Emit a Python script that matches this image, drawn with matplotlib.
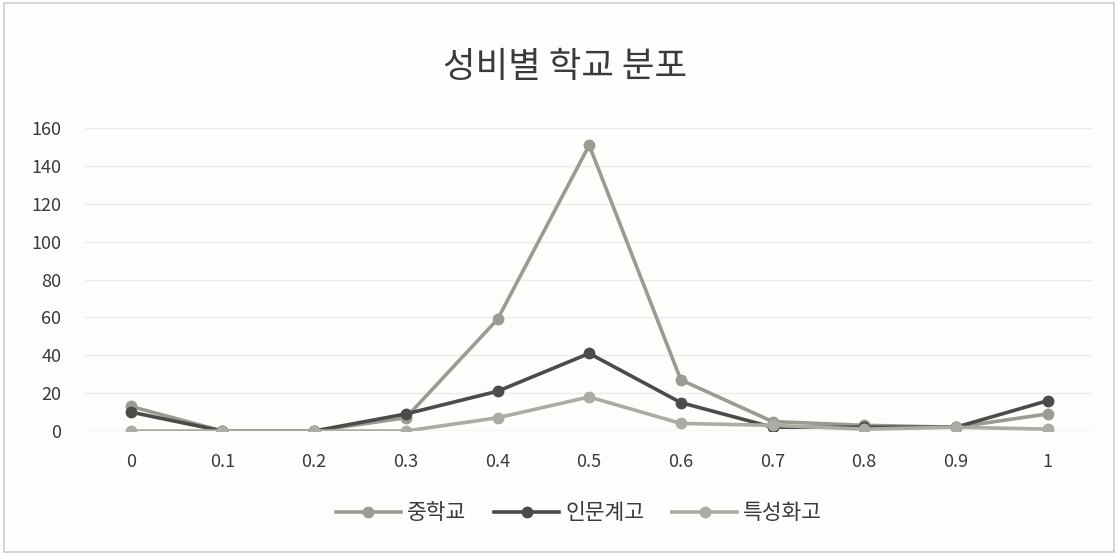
import matplotlib
matplotlib.use("Agg")
import matplotlib.pyplot as plt
from matplotlib.patches import Rectangle

plt.rcParams['font.family'] = ['Noto Sans CJK KR', 'DejaVu Sans']

categories = ["0", "0.1", "0.2", "0.3", "0.4", "0.5", "0.6", "0.7", "0.8", "0.9", "1"]
middle_school = [13, 0, 0, 7, 59, 151, 27, 5, 3, 2, 9]
general_high = [10, 0, 0, 9, 21, 41, 15, 2, 2, 2, 16]
vocational_high = [0, 0, 0, 0, 7, 18, 4, 3, 1, 2, 1]
series_names = ["중학교", "인문계고", "특성화고"]
y_ticks = [0, 20, 40, 60, 80, 100, 120, 140, 160]

colors = ["#9b9b92", "#4b4b49", "#acaca4"]

fig = plt.figure(figsize=(11.18, 5.55), dpi=100)
fig.patch.set_facecolor("#fdfdfb")
fig.add_artist(Rectangle((0.004, 0.006), 0.992, 0.988, transform=fig.transFigure,
                         fill=False, edgecolor="#cfcfca", linewidth=1.2))

ax = fig.add_axes([0.076, 0.2234, 0.902, 0.5456])
ax.set_facecolor("none")

x = list(range(len(categories)))
for vals, name, c in zip([middle_school, general_high, vocational_high], series_names, colors):
    ax.plot(x, vals, color=c, linewidth=2.6, marker="o", markersize=7.5,
            markerfacecolor=c, markeredgecolor=c, label=name)

ax.set_xlim(-0.5, len(categories) - 0.5)
ax.set_ylim(0, 160)
ax.set_yticks(y_ticks)
ax.set_yticklabels([str(v) for v in y_ticks], fontsize=13, color="#3a3a3a")
ax.set_xticks(x)
ax.set_xticklabels(categories, fontsize=13, color="#3a3a3a")
ax.tick_params(axis="both", length=0)
ax.tick_params(axis="x", pad=16)
ax.tick_params(axis="y", pad=17)
ax.grid(axis="y", color="#ececea", linewidth=1)
ax.set_axisbelow(True)
for s in ax.spines.values():
    s.set_visible(False)
ax.axhline(0, color="#dcdcd8", linewidth=1, zorder=0)

fig.text(0.505, 0.88, "성비별 학교 분포", ha="center", va="center", fontsize=25.5,
         color="#3a3a3a")

fig.legend(loc="center", bbox_to_anchor=(0.518, 0.075), ncol=3, frameon=False,
           fontsize=15.5, handlelength=3.0, columnspacing=1.3, handletextpad=0.3,
           labelcolor="#3a3a3a")

fig.savefig("out.png", dpi=100, facecolor=fig.get_facecolor())
